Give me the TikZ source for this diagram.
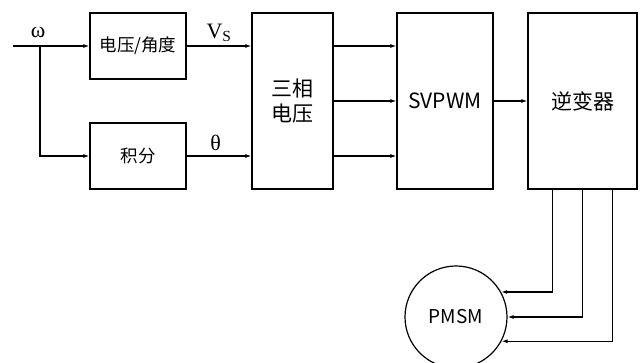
\documentclass[tikz,border=0pt]{standalone}
\usepackage{fontspec}
\setmainfont{Liberation Serif}
\newfontfamily\cjk{Noto Sans CJK SC}
\usetikzlibrary{arrows.meta,calc}

\tikzset{
  blk/.style={draw,line width=1.2pt,inner sep=0pt,font=\cjk\fontsize{21}{25}\selectfont,align=center},
  smallblk/.style={blk,minimum width=96pt,minimum height=66pt,font=\cjk\fontsize{17.5}{20}\selectfont},
  sig/.style={font=\fontsize{22}{24}\selectfont}
}

\begin{document}
\begin{tikzpicture}[x=1pt,y=-1pt,>={Latex[length=6pt,width=4pt]},line width=1.2pt]
  \useasboundingbox (0,0) rectangle (641,363);
  % input and branch point
  \coordinate (in) at (13,46);
  \coordinate (br) at (40,46);
  \node[sig] (omega) at (38,32) {ω};
  % blocks
  \node[smallblk] (volt) at (138,46) {电压/角度};
  \node[smallblk] (integ) at (138,156) {积分};
  \node[blk,minimum width=81pt,minimum height=176pt] (tri) at (292.5,101) {三相\\电压};
  \node[blk,minimum width=96pt,minimum height=176pt] (svpwm) at (445,101) {SVPWM};
  \node[blk,minimum width=109pt,minimum height=176pt] (inv) at (582.5,101) {逆变器};
  \node[draw,circle,line width=1.2pt,minimum size=102pt,inner sep=0pt,
        font=\cjk\fontsize{19}{22}\selectfont] (pmsm) at (456,317) {PMSM};
  % connectors
  \draw (in) -- (br);
  \draw[->] (br) -- (volt.west);
  \draw[->] (br) |- (integ.west);
  \draw[->] (volt.east) -- (volt.east -| tri.west)
    node[sig,midway,above=0pt] {V\textsubscript{S}};
  \draw[->] (integ.east) -- (integ.east -| tri.west)
    node[sig,pos=0.45,above=1pt] {θ};
  \draw[->] (tri.east |- volt.east) -- (svpwm.west |- volt.east);
  \draw[->] (tri.east) -- (svpwm.west);
  \draw[->] (tri.east |- integ.east) -- (svpwm.west |- integ.east);
  \draw[->] (svpwm.east) -- (inv.west);
  \draw[->] ($(inv.south)+(-30,0)$) |- (pmsm.29);
  \draw[->] ($(inv.south)+(0,0)$) |- (pmsm.east);
  \draw[->] ($(inv.south)+(30,0)$) |- (pmsm.-28);
\end{tikzpicture}
\end{document}
